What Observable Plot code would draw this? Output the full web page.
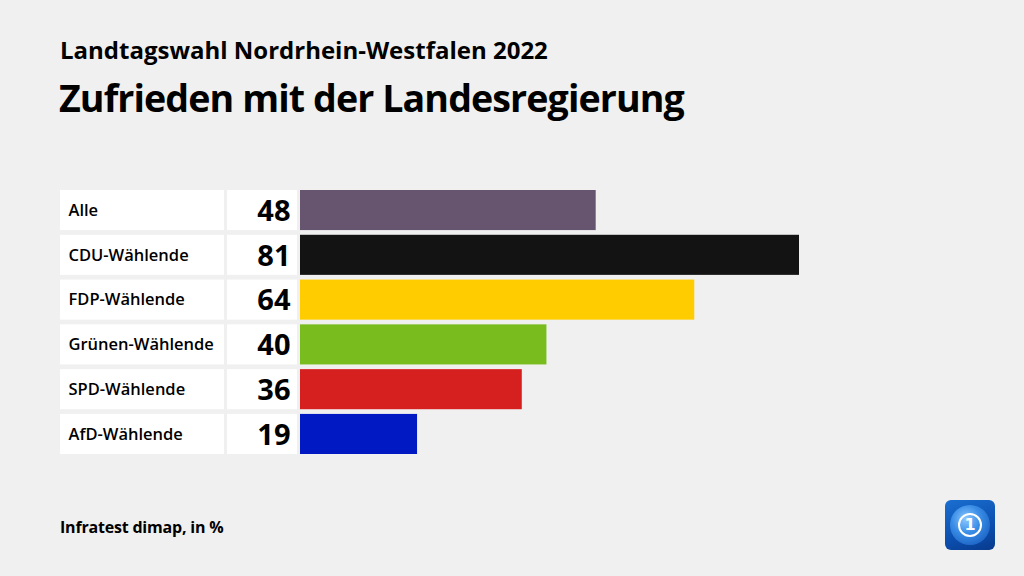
<!DOCTYPE html>
<html>
<head>
<meta charset="utf-8">
<script src="https://cdn.jsdelivr.net/npm/d3@7"></script>
<script src="https://cdn.jsdelivr.net/npm/@observablehq/plot@0.6"></script>
<style>
  html, body { margin: 0; padding: 0; background: #f0f0f0; width: 1024px; height: 576px; overflow: hidden; font-family: "Open Sans", sans-serif; }
  #page { position: relative; width: 1024px; height: 576px; }
  #sup { position: absolute; left: 60px; top: 33px; font-size: 24px; font-weight: 700; color: #000; letter-spacing: 0px; }
  #title { position: absolute; left: 59px; top: 72px; font-size: 37.6px; font-weight: 700; color: #000; letter-spacing: -0.9px; }
  #chart { position: absolute; left: 0; top: 180px; }
  #caption { position: absolute; left: 60px; top: 516px; font-size: 16px; font-weight: 700; color: #000; letter-spacing: -0.2px; }
  #logo { position: absolute; left: 945px; top: 500px; width: 50px; height: 50px; border-radius: 6px; overflow: hidden;
          background: linear-gradient(160deg, #1a6fd0 0%, #0b4fb0 60%, #083a8c 100%); }
  #logo .globe { position: absolute; left: 5px; top: 5px; width: 40px; height: 40px; border-radius: 50%;
          background: radial-gradient(circle at 40% 35%, #8cc8ff 0%, #3a8de6 40%, #0d4fb5 100%); }
  #logo .ring { position: absolute; left: 13px; top: 13px; width: 20px; height: 20px; border: 2.5px solid #fff; border-radius: 50%;
          color: #fff; font-weight: 700; font-size: 16px; line-height: 20px; text-align: center; font-family: "DejaVu Sans", sans-serif; }
</style>
</head>
<body>
<div id="page">
  <div id="sup">Landtagswahl Nordrhein-Westfalen 2022</div>
  <div id="title">Zufrieden mit der Landesregierung</div>
  <div id="chart"></div>
  <div id="caption">Infratest dimap, in %</div>
  <div id="logo"><div class="globe"></div><div class="ring">1</div></div>
</div>
<script>
const categories = ["Alle", "CDU-Wählende", "FDP-Wählende", "Grünen-Wählende", "SPD-Wählende", "AfD-Wählende"];
const values = [48, 81, 64, 40, 36, 19];
const colors = ["#67556f", "#131313", "#ffcc00", "#78bc1e", "#d61f1f", "#0019c2"];

const data = categories.map((c, i) => ({ name: c, value: values[i], color: colors[i] }));

const fontFamily = "'Open Sans', sans-serif";

// white label/value boxes drawn via the y scale
function boxes(index, scales, vals, dims) {
  const g = d3.create("svg:g");
  const bw = scales.y.bandwidth ? scales.y.bandwidth() : 40;
  for (const d of data) {
    const y0 = scales.y(d.name);
    g.append("rect").attr("x", 60).attr("y", y0).attr("width", 164).attr("height", bw).attr("fill", "#fff");
    g.append("rect").attr("x", 227).attr("y", y0).attr("width", 70).attr("height", bw).attr("fill", "#fff");
  }
  return g.node();
}

const chart = Plot.plot({
  width: 1024,
  height: 290,
  marginLeft: 0,
  marginRight: 0,
  marginTop: 0,
  marginBottom: 0,
  style: { background: "transparent", fontFamily },
  x: { domain: [0, 81], range: [300, 799], axis: null },
  y: { domain: categories, range: [10, 274], paddingInner: 0.105, paddingOuter: 0, round: false, axis: null },
  marks: [
    boxes,
    Plot.barX(data, { x1: 0, x2: "value", y: "name", fill: "color" }),
    Plot.text(data, { x: 0, y: "name", text: "name", dx: -232, textAnchor: "start", fontSize: 16.5, fontWeight: 600, fill: "#000" }),
    Plot.text(data, { x: 0, y: "name", text: d => String(d.value), dx: -10, dy: 1, textAnchor: "end", fontSize: 29, fontWeight: 700, fill: "#000" })
  ]
});
document.getElementById("chart").appendChild(chart);
</script>
</body>
</html>
